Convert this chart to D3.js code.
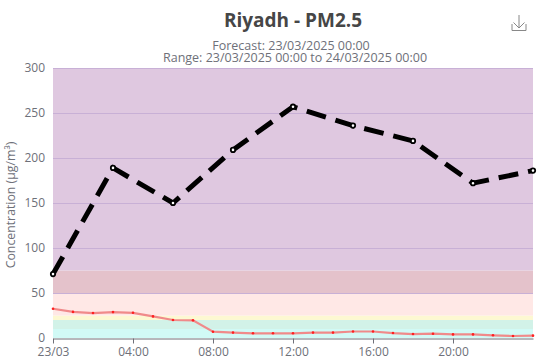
<!DOCTYPE html>
<html lang="en">
<head>
    <meta charset="UTF-8">
    <title>Riyadh - PM2.5</title>
    <style>
        html, body { margin: 0; padding: 0; background: #fff; }
        svg { display: block; }
        text { font-family: "Open Sans", "Noto Sans", sans-serif; }
    </style>
</head>
<body>
    <div id="chart-container"></div>
    <script src="https://d3js.org/d3.v7.min.js"></script>
    <script>
        const hours = d3.range(0, 25);
        const forecastHours = [0, 3, 6, 9, 12, 15, 18, 21, 24];
        const forecastValues = [71, 189, 150, 209, 257, 236, 219, 172, 186];
        const observedValues = [32.5, 29, 27.7, 28.8, 28, 24, 20, 19.6, 7, 6, 5.2, 5.2, 5.2, 6, 6, 7.2, 7.2, 5.5, 4.4, 4.8, 4, 4, 3, 2.2, 2.6];
        const tickHours = [0, 4, 8, 12, 16, 20];
        const tickLabels = ["23/03", "04:00", "08:00", "12:00", "16:00", "20:00"];
        const yTicks = [0, 50, 100, 150, 200, 250, 300];
        const bandLimits = [0, 10, 20, 25, 50, 75, 300];
        const bandColors = ["#d1faf6", "#d2f2e8", "#fdf8d2", "#ffe8e6", "#e4c2cb", "#dfc8e0"];

        const WIDTH = 538, HEIGHT = 364;
        const MARGIN = {LEFT: 53, TOP: 68, RIGHT: 5, BOTTOM: 26};
        const AXIS = "#6e7079";

        const svg = d3.select("#chart-container").append("svg")
            .attr("width", WIDTH)
            .attr("height", HEIGHT);

        const x = d3.scaleLinear().domain([0, 24]).range([MARGIN.LEFT, WIDTH - MARGIN.RIGHT]);
        const y = d3.scaleLinear().domain([0, 300]).range([HEIGHT - MARGIN.BOTTOM, MARGIN.TOP]);

        // air quality bands
        svg.append("g").selectAll("rect").data(bandColors).enter().append("rect")
            .attr("x", x(0))
            .attr("width", x(24) - x(0))
            .attr("y", (d, i) => y(bandLimits[i + 1]))
            .attr("height", (d, i) => y(bandLimits[i]) - y(bandLimits[i + 1]))
            .attr("fill", d => d);

        // grid
        svg.append("g").selectAll("line").data(yTicks.slice(1)).enter().append("line")
            .attr("x1", x(0)).attr("x2", x(24))
            .attr("y1", d => Math.round(y(d)) + 0.5).attr("y2", d => Math.round(y(d)) + 0.5)
            .attr("stroke", "#c8b0d6").attr("stroke-width", 1);

        // axes
        const yAxis = svg.append("g")
            .attr("transform", `translate(${MARGIN.LEFT},0)`)
            .call(d3.axisLeft(y).tickValues(yTicks).tickSize(0).tickPadding(8));
        yAxis.select(".domain").remove();
        yAxis.selectAll("text").attr("font-size", 12).attr("fill", AXIS)
            .style("font-family", '"Open Sans", sans-serif');

        const xAxis = svg.append("g")
            .attr("transform", `translate(0,${HEIGHT - MARGIN.BOTTOM + 0.5})`)
            .call(d3.axisBottom(x).tickValues(tickHours)
                .tickFormat((d, i) => tickLabels[i]).tickSize(5).tickSizeOuter(0).tickPadding(4));
        xAxis.select(".domain").attr("stroke", AXIS);
        xAxis.selectAll("line").attr("stroke", AXIS);
        xAxis.selectAll("text").attr("font-size", 12).attr("fill", AXIS)
            .style("font-family", '"Open Sans", sans-serif');

        // observed line
        const obsLine = d3.line().x((d, i) => x(hours[i])).y(d => y(d));
        svg.append("path").datum(observedValues)
            .attr("d", obsLine)
            .attr("fill", "none")
            .attr("stroke", "#f08a8a")
            .attr("stroke-width", 2.2);
        svg.append("g").selectAll("circle").data(observedValues).enter().append("circle")
            .attr("cx", (d, i) => x(hours[i]))
            .attr("cy", d => y(d))
            .attr("r", 1.3)
            .attr("fill", "#ff2020");

        // forecast line
        const fcLine = d3.line().x((d, i) => x(forecastHours[i])).y(d => y(d));
        svg.append("path").datum(forecastValues)
            .attr("d", fcLine)
            .attr("fill", "none")
            .attr("stroke", "#000")
            .attr("stroke-width", 5)
            .attr("stroke-dasharray", "20,10");
        svg.append("g").selectAll("circle").data(forecastValues).enter().append("circle")
            .attr("cx", (d, i) => x(forecastHours[i]))
            .attr("cy", d => y(d))
            .attr("r", 2.2)
            .attr("fill", "#fff")
            .attr("stroke", "#000")
            .attr("stroke-width", 1.8);

        // titles
        svg.append("text")
            .attr("x", 293).attr("y", 27)
            .attr("text-anchor", "middle")
            .attr("font-size", 19).attr("font-weight", "bold").attr("fill", "#464646")
            .text("Riyadh - PM2.5");
        const sub = svg.append("text")
            .attr("text-anchor", "middle")
            .attr("font-size", 12.5).attr("fill", AXIS);
        sub.append("tspan").attr("x", 291).attr("y", 50).text("Forecast: 23/03/2025 00:00");
        sub.append("tspan").attr("x", 295).attr("y", 62).text("Range: 23/03/2025 00:00 to 24/03/2025 00:00");
        svg.append("text")
            .attr("transform", `translate(15,${y(150) + 2}) rotate(-90)`)
            .attr("text-anchor", "middle")
            .attr("font-size", 12.3).attr("fill", AXIS)
            .text("Concentration (µg/m³)");

        // download icon
        svg.append("path")
            .attr("d", "M512 24V30.5H526V24M519 15V28M513.5 22.5L519 28L524.5 22.5")
            .attr("fill", "none").attr("stroke", "#888").attr("stroke-width", 1);
    </script>
</body>
</html>
